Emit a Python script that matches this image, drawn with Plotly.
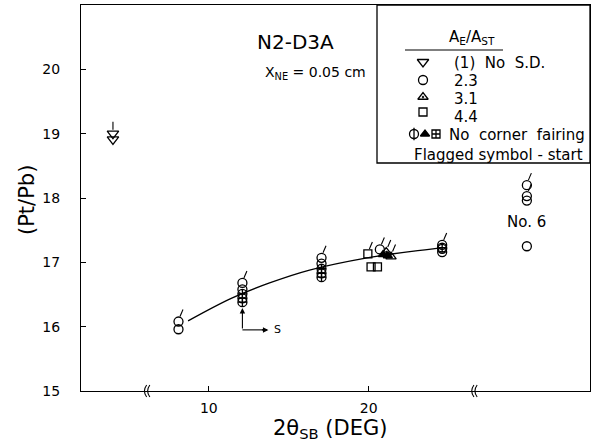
import plotly.graph_objects as go

# ---------------- data ----------------
line_x = [8.7, 11.4, 13.8, 16.3, 19.9, 22.7, 24.6]
line_y = [16.09, 16.44, 16.68, 16.88, 17.07, 17.17, 17.23]

nosd_x = [4.0, 4.0]
nosd_y = [19.0, 18.91]
nosd_flag = [True, False]

c23_x = [8.1, 8.1, 12.1, 12.1, 17.05, 17.05, 20.7, 24.6, 24.6, 24.6, 29.9, 29.9, 29.9, 29.9]
c23_y = [16.08, 15.96, 16.68, 16.58, 17.07, 16.98, 17.2, 17.27, 17.21, 17.16, 18.2, 18.03, 17.96, 17.25]
c23_flag = [True, False, True, False, True, False, True, True, False, False, True, True, False, False]

c23nf_x = [12.1, 12.1, 12.1, 17.05, 17.05, 17.05, 24.6]
c23nf_y = [16.51, 16.44, 16.38, 16.9, 16.83, 16.77, 17.23]

t31_x = [21.1, 21.4]
t31_y = [17.16, 17.09]
t31_flag = [True, True]

t31nf_x = [20.9, 21.2]
t31nf_y = [17.12, 17.1]

s44_x = [19.95, 20.15, 20.55]
s44_y = [17.13, 16.93, 16.93]
s44_flag = [True, False, False]

y_ticks = [15, 16, 17, 18, 19, 20]
x_ticks = [10, 20]
x_breaks = [6.07, 26.55]

NB = "\u00a0"
legend_labels = ["(1)" + NB * 2 + "No" + NB * 2 + "S.D.", "2.3", "3.1", "4.4"]
legend_symbols = ["triangle-down-open", "circle-open", "triangle-up-open-dot", "square-open"]

# ---------------- layout geometry ----------------
W, H = 593, 441
ML, MR, MT, MB = 81, 3, 5, 50
PW, PH = W - ML - MR, H - MT - MB
XR = [2.0, 33.85]
YR = [15.0, 21.0]
XS = PW / (XR[1] - XR[0])   # px per x unit
YS = PH / (YR[1] - YR[0])   # px per y unit


def px(xp):
    return (xp - ML) / PW


def py(yp):
    return (MT + PH - yp) / PH


FONT = "DejaVu Sans"
BLACK = "black"

fig = go.Figure()

# fairing curve
fig.add_trace(go.Scatter(x=line_x, y=line_y, mode="lines",
                         line=dict(color=BLACK, width=1.3, shape="spline"),
                         hoverinfo="skip", showlegend=False))


def flags(xs, ys, fl, dx0=1.5, dy0=5, dx1=4.5, dy1=12):
    fx, fy = [], []
    for x, y, f in zip(xs, ys, fl):
        if f:
            fx += [x + dx0 / XS, x + dx1 / XS, None]
            fy += [y + dy0 / YS, y + dy1 / YS, None]
    return fx, fy


def add_pts(xs, ys, symbol, size=9, xaxis="x", yaxis="y"):
    fig.add_trace(go.Scatter(x=xs, y=ys, mode="markers", xaxis=xaxis, yaxis=yaxis,
                             marker=dict(symbol=symbol, size=size, color=BLACK,
                                         line=dict(color=BLACK, width=1.3)),
                             hoverinfo="skip", showlegend=False))


add_pts(nosd_x, nosd_y, "triangle-down-open", 10)
add_pts(c23_x, c23_y, "circle-open", 9)
add_pts(c23nf_x, c23nf_y, "circle-cross-open", 9)
add_pts(t31_x, t31_y, "triangle-up-open-dot", 9)
add_pts(t31nf_x, t31nf_y, "triangle-up", 8)
add_pts(s44_x, s44_y, "square-open", 8)

fx, fy = [], []
for xs, ys, fl in [(c23_x, c23_y, c23_flag), (t31_x, t31_y, t31_flag), (s44_x, s44_y, s44_flag)]:
    a, b = flags(xs, ys, fl)
    fx += a
    fy += b
a, b = flags(nosd_x, nosd_y, nosd_flag, 0, 4, 0, 12)
fx += a
fy += b
fig.add_trace(go.Scatter(x=fx, y=fy, mode="lines", line=dict(color=BLACK, width=1.1),
                         hoverinfo="skip", showlegend=False))

# ---- legend symbols on an overlay axis in plot-fraction units ----
leg_sym_y = [62, 80, 97, 112]
leg_txt_y = [63, 81, 99, 117]
for sym, yp, sz in zip(legend_symbols, leg_sym_y, [10, 9, 9, 8]):
    add_pts([px(423)], [py(yp)], sym, sz, "x2", "y2")
add_pts([px(414)], [py(134)], "circle-open", 9, "x2", "y2")
add_pts([px(414)], [py(134)], "line-ns-open", 9, "x2", "y2")
add_pts([px(425)], [py(134)], "triangle-up", 8, "x2", "y2")
add_pts([px(436)], [py(134)], "square-cross-open", 8, "x2", "y2")

shapes = []
anns = []


def text(xp, yp, s, size=14, xanchor="center", yanchor="middle", **kw):
    anns.append(dict(x=px(xp), y=py(yp), xref="paper", yref="paper", text=s,
                     showarrow=False, xanchor=xanchor, yanchor=yanchor,
                     font=dict(size=size, family=FONT, color=BLACK), **kw))


# legend box
shapes.append(dict(type="rect", xref="paper", yref="paper",
                   x0=px(377), x1=1, y0=py(163), y1=1,
                   line=dict(color=BLACK, width=1.3)))
# header underline
shapes.append(dict(type="line", xref="paper", yref="paper",
                   x0=px(405), x1=px(503), y0=py(50), y1=py(50),
                   line=dict(color=BLACK, width=1.2)))

# axis break marks
for b in x_breaks:
    for off in (-1.6, 1.6):
        xb = b + off / XS
        d = 2.2 / XS
        h = 6 / PH
        shapes.append(dict(type="path", xref="x", yref="paper",
                           path=f"M {xb + d},{h} Q {xb - d},0 {xb + d},{-h}",
                           line=dict(color=BLACK, width=1.1)))

# start arrow "S"
arr_x = c23nf_x[0]
shapes.append(dict(type="line", xref="x", yref="y",
                   x0=arr_x, x1=arr_x + 24 / XS, y0=15.95, y1=15.95,
                   line=dict(color=BLACK, width=1.1)))
anns.append(dict(x=arr_x, y=16.29, ax=arr_x, ay=15.95, xref="x", yref="y",
                 axref="x", ayref="y", showarrow=True, arrowhead=2, arrowsize=1,
                 arrowwidth=1.1, arrowcolor=BLACK, text=""))
anns.append(dict(x=arr_x + 26 / XS, y=15.95, ax=arr_x + 18 / XS, ay=15.95, xref="x", yref="y",
                 axref="x", ayref="y", showarrow=True, arrowhead=2, arrowsize=1,
                 arrowwidth=1.1, arrowcolor=BLACK, text=""))
anns.append(dict(x=arr_x + 30 / XS, y=15.95, xref="x", yref="y", text="S",
                 showarrow=False, xanchor="left", yanchor="middle",
                 font=dict(size=11, family=FONT, color=BLACK)))

# titles inside plot
text(295, 42, "N2-D3A", 20)
text(315, 73, "X<sub>NE</sub> = 0.05 cm", 14)
anns.append(dict(x=29.9, y=17.63, xref="x", yref="y", text="No. 6",
                 showarrow=False, xanchor="center", yanchor="middle",
                 font=dict(size=15, family=FONT, color=BLACK)))

# legend contents
text(472, 49, "A<sub>E</sub>/A<sub>ST</sub>", 15, yanchor="bottom")
for txt, yp in zip(legend_labels, leg_txt_y):
    text(452, yp, txt, 15, xanchor="left")
text(447, 135, "No" + NB * 2 + "corner" + NB * 2 + "fairing", 15, xanchor="left")
text(412, 155, "Flagged symbol - start", 15, xanchor="left")

# axis titles
text(27, 200, "(Pt/Pb)", 21, textangle=-90)
text(330, 429, "2θ<sub>SB</sub> (DEG)", 21)

AX = dict(ticks="inside", ticklen=5, tickcolor=BLACK, showgrid=False, zeroline=False,
          showline=True, linecolor=BLACK, linewidth=1.3, mirror=True, automargin=False,
          tickfont=dict(size=14, family=FONT, color=BLACK))

fig.update_layout(
    width=W, height=H,
    margin=dict(l=ML, r=MR, t=MT, b=MB, autoexpand=False),
    paper_bgcolor="white", plot_bgcolor="white",
    showlegend=False,
    shapes=shapes, annotations=anns,
    font=dict(family=FONT, color=BLACK),
    xaxis=dict(range=XR, tickvals=x_ticks, ticktext=[str(v) for v in x_ticks],
               ticklabelstandoff=4, **AX),
    yaxis=dict(range=YR, tickvals=y_ticks, ticktext=[str(v) for v in y_ticks],
               ticklabelstandoff=17, **AX),
    xaxis2=dict(range=[0, 1], overlaying="x", anchor="y2", visible=False, automargin=False),
    yaxis2=dict(range=[0, 1], overlaying="y", anchor="x2", visible=False, automargin=False),
)

fig.write_html("out.html", post_script="document.body.style.margin='0';",
               config={"displayModeBar": False})
